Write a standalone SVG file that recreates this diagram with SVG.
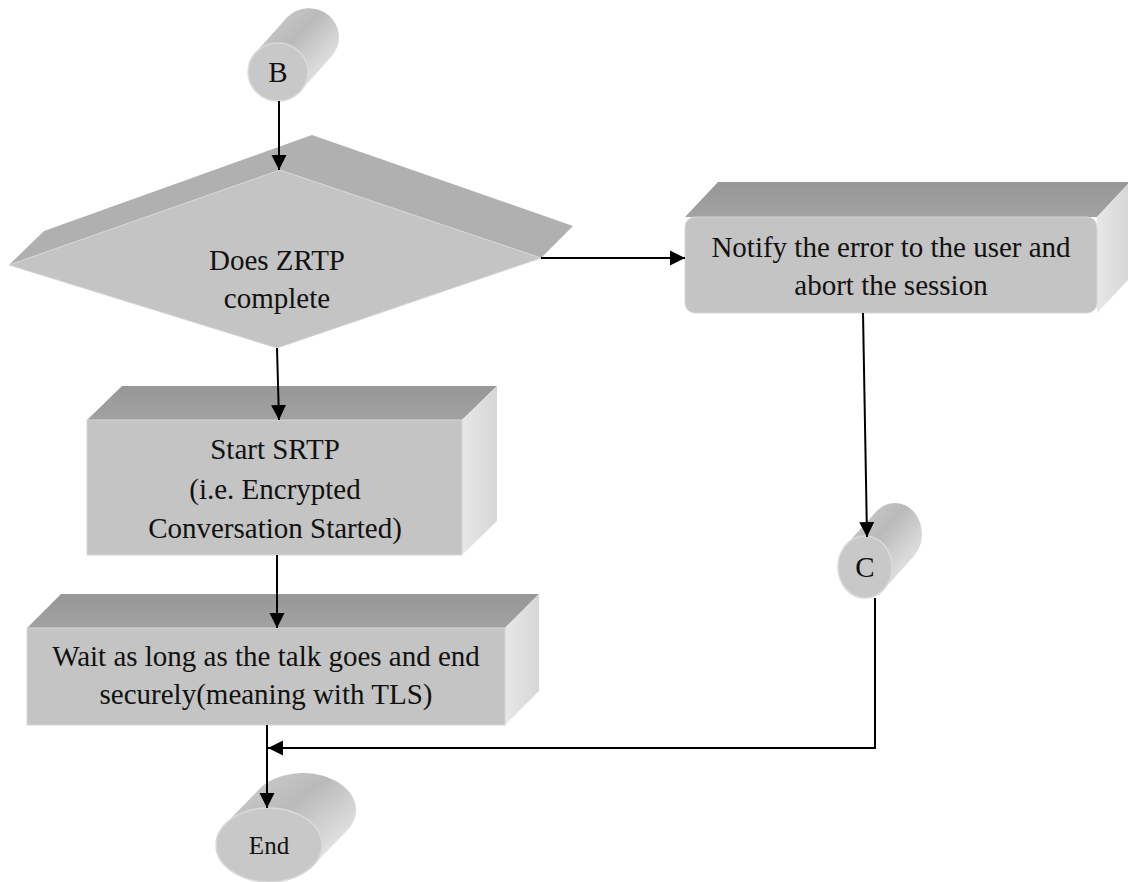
<svg xmlns="http://www.w3.org/2000/svg" width="1128" height="882" viewBox="0 0 1128 882">
  <style>
    .lbl { font-family: "Liberation Serif", "Times New Roman", serif; font-size: 29px; fill: #111; text-anchor: middle; }
    .front { fill: #c4c4c4; stroke: #d6d6d6; stroke-width: 1; }
    .top { fill: url(#topGrad); }
    .side { fill: url(#sideGrad); }
    .dtop { fill: #b0b0b0; }
    .cylbody { fill: url(#cylGrad); }
    .cylface { fill: #c8c8c8; stroke: #dadada; stroke-width: 1.5; }
    .conn { fill: none; stroke: #000; stroke-width: 2; }
  </style>
  <defs>
    <linearGradient id="sideGrad" x1="0" y1="0" x2="1" y2="0">
      <stop offset="0" stop-color="#e8e8e8"/>
      <stop offset="1" stop-color="#d6d6d6"/>
    </linearGradient>
    <linearGradient id="topGrad" x1="0" y1="0" x2="0" y2="1">
      <stop offset="0" stop-color="#979797"/>
      <stop offset="1" stop-color="#a2a2a2"/>
    </linearGradient>
    <linearGradient id="cylGrad" x1="0" y1="0" x2="1" y2="1">
      <stop offset="0" stop-color="#d2d2d2"/>
      <stop offset="0.42" stop-color="#bababa"/>
      <stop offset="0.8" stop-color="#e6e6e6"/>
      <stop offset="1" stop-color="#d8d8d8"/>
    </linearGradient>
    <marker id="arrow" markerUnits="userSpaceOnUse" markerWidth="16" markerHeight="16" viewBox="0 0 16 16" refX="15" refY="8" orient="auto">
      <path d="M0,0.5 L15,8 L0,15.5 Z" fill="#000"/>
    </marker>
  </defs>

  <!-- start connector cylinder B -->
  <g id="node-b">
    <path class="cylbody" d="M255.3,53.1 L287.3,17.1 A30,29 0 0 1 332.7,54.9 L300.7,90.9 A30,29 0 0 1 255.3,53.1 Z"/>
    <ellipse class="cylface" cx="278" cy="72" rx="30" ry="29"/>
    <text class="lbl" x="278" y="82">B</text>
  </g>

  <!-- decision diamond -->
  <g id="node-decision">
    <polygon class="dtop" points="9,265 44,231 312,135 573,226 541,258 280,170"/>
    <polygon class="front" points="280,170 541,258 277,348 9,265"/>
    <text class="lbl" x="277" y="270">Does ZRTP</text>
    <text class="lbl" x="277" y="308">complete</text>
  </g>

  <!-- error notification box -->
  <g id="node-notify">
    <polygon class="top" points="685,217 718,182 1130,182 1097,217"/>
    <polygon class="side" points="1097,217 1130,182 1130,278 1097,313"/>
    <rect class="front" x="685" y="217" width="412" height="96" rx="10"/>
    <text class="lbl" x="891" y="257">Notify the error to the user and</text>
    <text class="lbl" x="891" y="295">abort the session</text>
  </g>

  <!-- SRTP start box -->
  <g id="node-srtp">
    <polygon class="top" points="87,420 122,386 497,386 462,420"/>
    <polygon class="side" points="462,420 497,386 497,521 462,555"/>
    <rect class="front" x="87" y="420" width="375" height="135"/>
    <text class="lbl" x="275" y="459">Start SRTP</text>
    <text class="lbl" x="275" y="499">(i.e. Encrypted</text>
    <text class="lbl" x="275" y="538">Conversation Started)</text>
  </g>

  <!-- wait box -->
  <g id="node-wait">
    <polygon class="top" points="27,628 61,594 539,594 505,628"/>
    <polygon class="side" points="505,628 539,594 539,691 505,725"/>
    <rect class="front" x="27" y="628" width="478" height="97"/>
    <text class="lbl" x="266" y="666">Wait as long as the talk goes and end</text>
    <text class="lbl" x="266" y="704">securely(meaning with TLS)</text>
  </g>

  <!-- off-page connector C -->
  <g id="node-c">
    <path class="cylbody" d="M846.3,544.6 L876.3,511.6 A27,31 0 0 1 913.7,556.4 L883.7,589.4 A27,31 0 0 1 846.3,544.6 Z"/>
    <ellipse class="cylface" cx="865" cy="567" rx="27" ry="31"/>
    <text class="lbl" x="865" y="577">C</text>
  </g>

  <!-- terminator -->
  <g id="node-end">
    <path class="cylbody" d="M225.1,824.2 L259.1,789.2 A53,37 0 0 1 346.9,830.8 L312.9,865.8 A53,37 0 0 1 225.1,824.2 Z"/>
    <ellipse class="cylface" cx="269" cy="845" rx="53" ry="37"/>
    <text class="lbl" x="269" y="854" style="font-size:25px">End</text>
  </g>

  <g id="connectors">
    <line class="conn" x1="279" y1="101" x2="279" y2="170" marker-end="url(#arrow)"/>
    <line class="conn" x1="277" y1="348" x2="279" y2="420" marker-end="url(#arrow)"/>
    <line class="conn" x1="277" y1="555" x2="277" y2="628" marker-end="url(#arrow)"/>
    <line class="conn" x1="541" y1="258" x2="685" y2="258" marker-end="url(#arrow)"/>
    <line class="conn" x1="863" y1="313" x2="867" y2="537" marker-end="url(#arrow)"/>
    <polyline class="conn" points="875,598 875,748 268,748" marker-end="url(#arrow)"/>
    <line class="conn" x1="267" y1="725" x2="267" y2="808" marker-end="url(#arrow)"/>
  </g>
</svg>
